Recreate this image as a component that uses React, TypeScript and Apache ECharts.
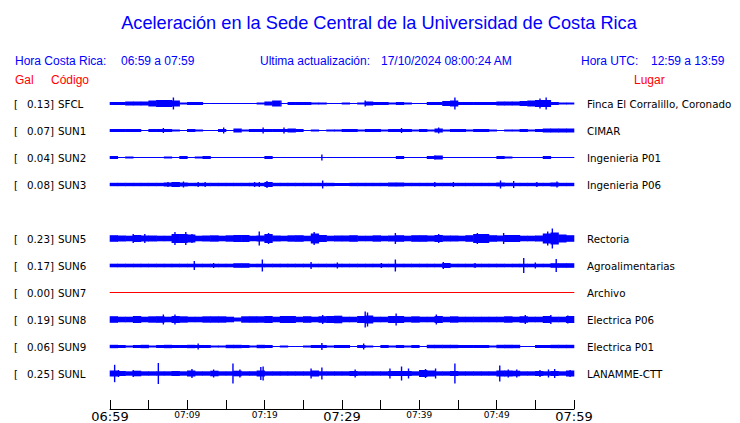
import React, { useEffect, useRef } from "react";
import * as echarts from "echarts";

// ---------- data ----------
const codes = ["SFCL", "SUN1", "SUN2", "SUN3", "SUN5", "SUN6", "SUN7", "SUN8", "SUN9", "SUNL"];
const places = [
  "Finca El Corralillo, Coronado",
  "CIMAR",
  "Ingenieria P01",
  "Ingenieria P06",
  "Rectoria",
  "Agroalimentarias",
  "Archivo",
  "Electrica P06",
  "Electrica P01",
  "LANAMME-CTT",
];
const peakGal = ["0.13", "0.07", "0.04", "0.08", "0.23", "0.17", "0.00", "0.19", "0.06", "0.25"];
const timeLabels = ["06:59", "07:09", "07:19", "07:29", "07:39", "07:49", "07:59"];

// per-minute envelope (relative amplitude) read from the record, minutes 0..59 after 06:59
const sfclEnv = [
  1.5, 1.5, 2, 2, 2, 3, 3.5, 3.5, 3, 1,
  1.5, 1.5, 0, 0, 0, 0, 0, 0.5, 0, 1,
  2, 3, 0.5, 1.5, 1.5, 1.5, 1, 1, 0.5, 0,
  1, 0.5, 1, 2, 1.5, 1.5, 1, 1.5, 1, 0.5,
  0.5, 1.5, 1.5, 2.5, 3, 1.5, 1.5, 1.5, 1.5, 1.5,
  2, 2, 2, 2.5, 3, 3.5, 3.5, 1.5, 1, 1,
];
const sun1Env = [
  1.5, 1.5, 1.5, 1.5, 0.5, 1.5, 1.5, 1.5, 1, 0.5,
  1.5, 1, 0, 0.5, 1.5, 0.5, 2, 1, 1.5, 1.5,
  1.5, 1.5, 1.5, 2, 1.5, 0.5, 1, 0.5, 1, 1,
  1.5, 1.5, 1, 1.5, 1.5, 1, 1.5, 1.5, 1.5, 1,
  1.5, 1, 2, 1, 1.5, 1.5, 1, 1.5, 1.5, 1,
  0.5, 1, 1, 1.5, 1, 1.5, 2, 2, 2, 2,
];
const sun2Env = [
  1.5, 0.5, 1, 0.5, 0, 0.5, 0, 1, 0, 1.5,
  0.5, 1, 1.5, 0, 0, 0.5, 0, 0.5, 0.5, 0,
  1.5, 0, 0.5, 0, 0.5, 0.5, 0.5, 0.5, 0.5, 0.5,
  0.5, 0.5, 0.5, 0.5, 0, 0, 0, 1.5, 0, 0,
  0, 1.5, 2, 0.5, 0.5, 0.5, 0.5, 0, 0.5, 0,
  1.5, 1, 0.5, 0, 0, 0.5, 1.5, 0.5, 0.5, 0.5,
];
const sun3Env = [
  1.7, 1.7, 1.7, 1.7, 1.7, 1.7, 1.7, 2, 2.5, 2,
  1.7, 1.7, 1.7, 1.7, 1.7, 1.7, 1.7, 1.7, 1.7, 1.7,
  2.5, 1.7, 1.7, 1.7, 1.7, 1.7, 1.7, 1.7, 1.7, 1.5,
  1.5, 1.7, 1.7, 1.7, 1.7, 1.7, 2, 2, 1.7, 1.7,
  1.7, 1.7, 1.7, 1.7, 1.7, 1.7, 1.7, 1.7, 1.7, 1.7,
  2, 1.7, 1.7, 1.7, 1.7, 1.7, 1.7, 2, 1.7, 1.7,
];
const sun5Env = [
  3.3, 3, 2.8, 3.5, 3, 3, 2.8, 2.8, 4.5, 4.5,
  4, 2.8, 3, 3.2, 2.8, 3.2, 3.5, 3.5, 2.8, 3,
  4.5, 3, 2.8, 3.2, 3.3, 2.8, 5, 3.5, 2.8, 3,
  3, 3.3, 2.8, 2.8, 3.2, 2.8, 3, 3.3, 2.8, 3.3,
  3.3, 3, 3.5, 3, 3, 2.8, 3.3, 4.5, 4.5, 3.3,
  3, 3.5, 3.5, 2.8, 2.8, 3, 5, 6, 4, 3.3,
];
const sun6Env = [
  1.8, 1.8, 1.8, 1.8, 1.8, 1.8, 1.8, 1.8, 1.8, 1.8,
  1.8, 1.8, 1.8, 1.8, 1.8, 1.8, 2.3, 2.3, 1.8, 1.8,
  1.8, 1.8, 1.8, 1.8, 1.8, 1.8, 1.8, 1.8, 1.8, 1.8,
  1.8, 1.8, 1.8, 1.8, 1.8, 1.8, 1.8, 1.8, 1.8, 1.8,
  1.8, 1.8, 1.8, 2.5, 1.8, 1.8, 1.8, 1.8, 1.8, 1.8,
  1.8, 1.8, 1.8, 1.8, 1.8, 1.8, 1.8, 2.3, 2.3, 2.3,
];
const sun7Env = [
  0, 0, 0, 0, 0, 0, 0, 0, 0, 0,
  0, 0, 0, 0, 0, 0, 0, 0, 0, 0,
  0, 0, 0, 0, 0, 0, 0, 0, 0, 0,
  0, 0, 0, 0, 0, 0, 0, 0, 0, 0,
  0, 0, 0, 0, 0, 0, 0, 0, 0, 0,
  0, 0, 0, 0, 0, 0, 0, 0, 0, 0,
];
const sun8Env = [
  3.3, 2.8, 2.8, 3.5, 2.8, 3.2, 3.3, 2.8, 3.5, 3.2,
  2.8, 2.8, 3.2, 3.2, 3.2, 2.8, 2, 3.2, 3.2, 3.2,
  3.5, 2.8, 3.5, 3.5, 2.8, 3.3, 2.8, 3.3, 3.5, 3.8,
  2.8, 2.8, 3.5, 4, 2.8, 2.8, 3.5, 3.5, 2.8, 3.2,
  2.8, 2.8, 3.5, 2.8, 3.2, 2.8, 2.8, 2.8, 2.8, 2.8,
  2.8, 3.2, 2.8, 3.3, 2.8, 2.8, 3.5, 2.8, 2.8, 3.5,
];
const sun9Env = [
  1.7, 1.5, 1, 1.5, 1.7, 1, 1.5, 1.7, 1.5, 1.5,
  1.7, 1.5, 1.5, 1, 1, 1.7, 1.7, 1.5, 1, 1.7,
  1.5, 0.5, 1, 0.5, 0.5, 1, 1.5, 1.5, 1, 1.5,
  1.5, 0.5, 1.5, 1, 0.5, 1.5, 1, 1.5, 1, 1.5,
  0.5, 1.7, 1.7, 1.7, 1.7, 1.5, 1.5, 1.5, 1.5, 1,
  1.7, 1.7, 1.7, 0.5, 0.5, 1.5, 1.5, 1.7, 1.7, 1.7,
];
const sunlEnv = [
  3, 2.5, 2.2, 2.8, 2.2, 2.2, 2.2, 2.2, 2.5, 2.2,
  3, 2.2, 2.2, 2.8, 2.2, 2.2, 2.8, 2.2, 2.2, 3,
  2.2, 2.2, 2.2, 2.2, 2.2, 2.2, 3, 2.2, 2.2, 2.2,
  2.2, 2.5, 2.2, 2.2, 2.2, 2.2, 2.5, 2.5, 2.5, 2.2,
  3.5, 3, 2.2, 2.2, 2.5, 2.2, 2.2, 2.2, 2.2, 2.2,
  3, 3, 2.8, 2.2, 2.2, 2.5, 2.2, 2.5, 2.2, 3,
];

// isolated spikes: [minute, relative amplitude]
const sfclSpikes = [[8.2, 6], [22.1, 3], [33.0, 3], [44.6, 6], [55.6, 5], [56.4, 6]];
const sun1Spikes = [[6.9, 2.5], [14.7, 3], [19.8, 3], [22.5, 3], [37.7, 2.5], [42.5, 3]];
const sun2Spikes = [[27.4, 3], [42.0, 2]];
const sun3Spikes = [
  [7.5, 2.5], [8.1, 2.5], [9.5, 3], [11.4, 2.5], [12.3, 2.5], [18.7, 2.5], [19.3, 2.5],
  [20.3, 3.5], [27.5, 4], [42.0, 2.5], [44.4, 2.5], [50.5, 4], [52.2, 3.5], [55.2, 2.5], [57.8, 3],
];
const sun5Spikes = [
  [3.0, 4.5], [4.5, 4.5], [8.4, 6.5], [9.8, 6.5], [10.6, 4.5], [19.3, 7], [20.5, 5.5],
  [26.4, 6.5], [36.9, 5.5], [42.5, 4.5], [47.5, 5.5], [50.9, 5.5], [56.6, 7], [57.2, 10],
];
const sun6Spikes = [
  [10.9, 4.5], [13.4, 2.5], [19.7, 6], [26.0, 3.5], [29.4, 3], [35.1, 2.5], [36.9, 6],
  [43.1, 3.5], [47.2, 2.5], [53.5, 7.5], [55.0, 3], [57.7, 6.5],
];
const sun7Spikes: number[][] = [];
const sun8Spikes = [
  [6.9, 5], [8.4, 5], [27.5, 4.5], [33.0, 8], [33.3, 7], [37.0, 6], [42.2, 5],
  [53.7, 4.5], [57.0, 4.5], [59.2, 4],
];
const sun9Spikes = [[11.4, 3], [27.4, 3.5], [32.8, 3]];
const sunlSpikes = [
  [0.6, 8.7], [1.1, 3.5], [3.0, 3.5], [6.25, 10.5], [10.6, 4.5], [13.4, 4], [15.9, 10],
  [16.8, 4], [19.5, 6.5], [19.8, 7], [26.0, 5], [27.4, 6], [31.7, 4], [36.2, 5],
  [37.7, 7], [38.6, 5], [40.8, 4.5], [42.1, 5], [44.6, 10], [50.4, 8], [51.5, 4],
  [52.6, 4], [55.6, 3.5], [56.7, 4], [57.5, 4.5], [59.5, 3.5],
];

const envelopes = [sfclEnv, sun1Env, sun2Env, sun3Env, sun5Env, sun6Env, sun7Env, sun8Env, sun9Env, sunlEnv];
const spikes = [sfclSpikes, sun1Spikes, sun2Spikes, sun3Spikes, sun5Spikes, sun6Spikes, sun7Spikes, sun8Spikes, sun9Spikes, sunlSpikes];

// ---------- layout ----------
const ROW = 27;
const slotOf = [0, 1, 2, 3, 5, 6, 7, 8, 9, 10];
const NSLOTS = 11;
const BLUE = "#0000ff";
const RED = "#ff0000";

export default function App() {
  const ref = useRef<HTMLDivElement>(null);

  useEffect(() => {
    if (!ref.current) return;
    const chart = echarts.init(ref.current, undefined, { renderer: "svg" });

    const leftCats: string[] = new Array(NSLOTS).fill("");
    const rightCats: string[] = new Array(NSLOTS).fill("");
    const peakBySlot: string[] = new Array(NSLOTS).fill("");
    codes.forEach((c, i) => {
      leftCats[slotOf[i]] = c;
      rightCats[slotOf[i]] = places[i];
      peakBySlot[slotOf[i]] = peakGal[i];
    });

    const series: any[] = [];
    codes.forEach((code, i) => {
      const color = peakGal[i] === "0.00" ? RED : BLUE;
      const yv = slotOf[i] * ROW;
      series.push({
        type: "custom",
        name: code,
        xAxisIndex: 0,
        yAxisIndex: 2,
        data: envelopes[i].map((a, m) => [m, yv, a]),
        encode: { x: 0, y: 1 },
        renderItem: (_p: any, api: any) => {
          const m = api.value(0);
          const y = api.value(1);
          const a = Math.max(api.value(2), 0.5);
          const p0 = api.coord([m, y]);
          const p1 = api.coord([m + 1, y]);
          const h = api.size([0, a])[1];
          return {
            type: "rect",
            shape: { x: p0[0] - 0.3, y: p0[1] - h, width: p1[0] - p0[0] + 0.6, height: 2 * h },
            style: { fill: color },
          };
        },
      });
      if (spikes[i].length) {
        series.push({
          type: "custom",
          name: code + " picos",
          xAxisIndex: 0,
          yAxisIndex: 2,
          data: spikes[i].map((s) => [s[0], yv, s[1]]),
          encode: { x: 0, y: 1 },
          renderItem: (_p: any, api: any) => {
            const m = api.value(0);
            const y = api.value(1);
            const a = api.value(2);
            const p = api.coord([m, y]);
            const h = api.size([0, a])[1];
            return {
              type: "rect",
              shape: { x: p[0] - 0.7, y: p[1] - h, width: 1.4, height: 2 * h },
              style: { fill: color },
            };
          },
        });
      }
    });

    const option: any = {
      animation: false,
      backgroundColor: "#ffffff",
      grid: { left: 110, right: 166, top: 90, height: 297 },
      xAxis: {
        type: "value",
        min: 0,
        max: 60,
        interval: 5,
        offset: 22,
        axisLine: { show: true, onZero: false, lineStyle: { color: "#000", width: 1 } },
        axisTick: { show: true, inside: true, length: 9, lineStyle: { color: "#000", width: 1 } },
        splitLine: { show: false },
        axisLabel: {
          margin: 0,
          showMinLabel: true,
          showMaxLabel: true,
          formatter: (v: number) => {
            if (v % 10 !== 0) return "";
            const t = timeLabels[v / 10];
            return v % 30 === 0 ? `{big|${t}}` : `{small|${t}}`;
          },
          rich: {
            big: { fontSize: 13, fontFamily: "DejaVu Sans", color: "#000", lineHeight: 14 },
            small: { fontSize: 9, fontFamily: "DejaVu Sans", color: "#000", lineHeight: 11 },
          },
        },
      },
      yAxis: [
        {
          type: "category",
          data: leftCats,
          inverse: true,
          position: "left",
          axisLine: { show: false },
          axisTick: { show: false },
          splitLine: { show: false },
          axisLabel: {
            margin: 96,
            align: "left",
            interval: 0,
            formatter: (v: string, idx: number) => (v ? `{b|[}{v|${peakBySlot[idx]}]}{c|${v}}` : ""),
            rich: {
              b: { width: 13, fontSize: 10.3, fontFamily: "DejaVu Sans", color: "#000" },
              v: { fontSize: 10.3, fontFamily: "DejaVu Sans", color: "#000" },
              c: { fontSize: 10.3, fontFamily: "DejaVu Sans", color: "#000", padding: [0, 0, 0, 4] },
            },
          },
        },
        {
          type: "category",
          data: rightCats,
          inverse: true,
          position: "right",
          axisLine: { show: false },
          axisTick: { show: false },
          splitLine: { show: false },
          axisLabel: {
            margin: 13,
            interval: 0,
            fontSize: 10.3,
            fontFamily: "DejaVu Sans",
            color: "#000",
          },
        },
        {
          type: "value",
          min: -ROW / 2,
          max: NSLOTS * ROW - ROW / 2,
          inverse: true,
          show: false,
          splitLine: { show: false },
        },
      ],
      graphic: [
        {
          type: "text",
          x: 379,
          y: 23,
          style: {
            text: "Aceleración en la Sede Central de la Universidad de Costa Rica",
            fill: BLUE,
            fontSize: 18.2,
            fontFamily: "Liberation Sans",
            align: "center",
            verticalAlign: "middle",
          },
        },
        ...[
          ["Hora Costa Rica:", 15],
          ["06:59 a 07:59", 121],
          ["Ultima actualización:", 260],
          ["17/10/2024 08:00:24 AM", 381],
          ["Hora UTC:", 581],
          ["12:59 a 13:59", 651],
        ].map(([t, x]) => ({
          type: "text",
          x: x as number,
          y: 61,
          style: { text: t, fill: BLUE, fontSize: 12, fontFamily: "Liberation Sans", align: "left", verticalAlign: "middle" },
        })),
        ...[
          ["Gal", 15],
          ["Código", 51],
          ["Lugar", 634],
        ].map(([t, x]) => ({
          type: "text",
          x: x as number,
          y: 80,
          style: { text: t, fill: RED, fontSize: 12, fontFamily: "Liberation Sans", align: "left", verticalAlign: "middle" },
        })),
      ],
      series,
    };

    chart.setOption(option);
    return () => chart.dispose();
  }, []);

  return (
    <div
      ref={ref}
      style={{ position: "fixed", left: 0, top: 0, width: 740, height: 423, background: "#fff" }}
    />
  );
}
